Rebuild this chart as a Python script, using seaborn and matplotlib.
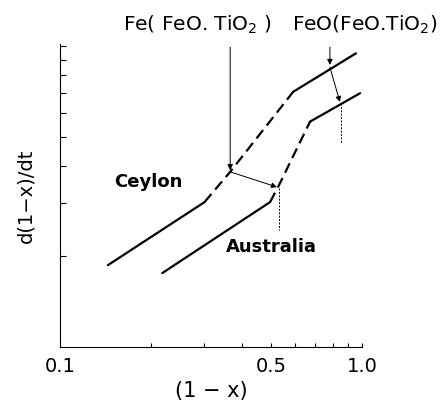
import matplotlib
matplotlib.use("Agg")
import matplotlib.pyplot as plt
import seaborn as sns
import pandas as pd
from matplotlib.ticker import NullFormatter, FixedLocator

# ---- data ----
ceylon_solid1_x = [0.144, 0.301]
ceylon_solid1_y = [1.87, 3.03]
ceylon_dash_x = [0.301, 0.366, 0.592]
ceylon_dash_y = [3.03, 3.82, 7.05]
ceylon_solid2_x = [0.592, 0.955]
ceylon_solid2_y = [7.05, 9.46]

austr_solid1_x = [0.218, 0.496]
austr_solid1_y = [1.76, 3.03]
austr_dash_x = [0.496, 0.528, 0.673]
austr_dash_y = [3.03, 3.41, 5.61]
austr_solid2_x = [0.673, 0.985]
austr_solid2_y = [5.61, 6.97]

x_major = [0.1, 0.5, 1.0]
x_major_labels = ["0.1", "0.5", "1.0"]
x_minor = [0.2, 0.3, 0.4, 0.6, 0.7, 0.8, 0.9]
y_ticks = [2, 3, 4, 5, 6, 7, 8, 9, 10]

sns.set_style("ticks")
plt.rcParams['font.family'] = ['DejaVu Sans']
plt.rcParams['mathtext.default'] = 'regular'
for k in ["text.color", "axes.labelcolor", "xtick.color", "ytick.color", "axes.edgecolor"]:
    plt.rcParams[k] = "black"

fig = plt.figure(figsize=(4.46, 4.04), dpi=100)
ax = fig.add_axes([60/446, 1-347/404, 302/446, 303/404])

def seg(xs, ys, dashed=False):
    df = pd.DataFrame({"x": xs, "y": ys})
    l = sns.lineplot(data=df, x="x", y="y", ax=ax, color="black", lw=1.6,
                     sort=False, estimator=None)
    if dashed:
        l.lines[-1].set_dashes((4.8, 2.6))
    return l

seg(ceylon_solid1_x, ceylon_solid1_y)
seg(ceylon_dash_x, ceylon_dash_y, dashed=True)
seg(ceylon_solid2_x, ceylon_solid2_y)
seg(austr_solid1_x, austr_solid1_y)
seg(austr_dash_x, austr_dash_y, dashed=True)
seg(austr_solid2_x, austr_solid2_y)

ax.set_xscale("log")
ax.set_yscale("log")
ax.set_xlim(0.1, 1.0)
ax.set_ylim(1.0, 10.16)

ax.xaxis.set_major_locator(FixedLocator(x_major))
ax.set_xticklabels(x_major_labels)
ax.xaxis.set_minor_locator(FixedLocator(x_minor))
ax.xaxis.set_minor_formatter(NullFormatter())
ax.yaxis.set_major_locator(FixedLocator(y_ticks))
ax.yaxis.set_major_formatter(NullFormatter())
ax.yaxis.set_minor_locator(FixedLocator([]))
ax.tick_params(axis="both", which="both", direction="in", color="black", width=0.8)
ax.tick_params(axis="x", which="both", length=3, labelsize=14, pad=7)
ax.tick_params(axis="y", which="both", length=4)
for s in ["left", "bottom"]:
    ax.spines[s].set_linewidth(0.8)
sns.despine(ax=ax)

ax.set_xlabel("(1 − x)", fontsize=15, labelpad=4)
ax.set_ylabel("d(1−x)/dt", fontsize=14, labelpad=14)

ax.text(0.1955, 3.53, "Ceylon", fontsize=13, fontweight="bold", ha="center", va="center")
ax.text(0.503, 2.15, "Australia", fontsize=13, fontweight="bold", ha="center", va="center")

ax.text(0.285, 11.75, "Fe( FeO. TiO$_2$ )", fontsize=14.5, ha="center", va="center", clip_on=False)
ax.text(1.02, 11.75, "FeO(FeO.TiO$_2$)", fontsize=14.5, ha="center", va="center", clip_on=False)

ap = dict(arrowstyle="-|>", lw=0.7, color="black", mutation_scale=8, shrinkA=0, shrinkB=0)
ax.annotate("", xy=(0.366, 3.87), xytext=(0.366, 9.92), arrowprops=ap, annotation_clip=False)
ax.annotate("", xy=(0.523, 3.40), xytext=(0.366, 3.82), arrowprops=ap)
ax.plot([0.53, 0.53], [3.38, 2.445], color="black", lw=0.7, ls=(0, (2, 1.5)))
ax.annotate("", xy=(0.783, 8.66), xytext=(0.783, 9.92), arrowprops=ap, annotation_clip=False)
ax.annotate("", xy=(0.845, 6.52), xytext=(0.783, 8.50), arrowprops=ap)
ax.plot([0.851, 0.851], [6.47, 4.76], color="black", lw=0.7, ls=(0, (2, 1.5)))

fig.savefig("out.png", dpi=100)
